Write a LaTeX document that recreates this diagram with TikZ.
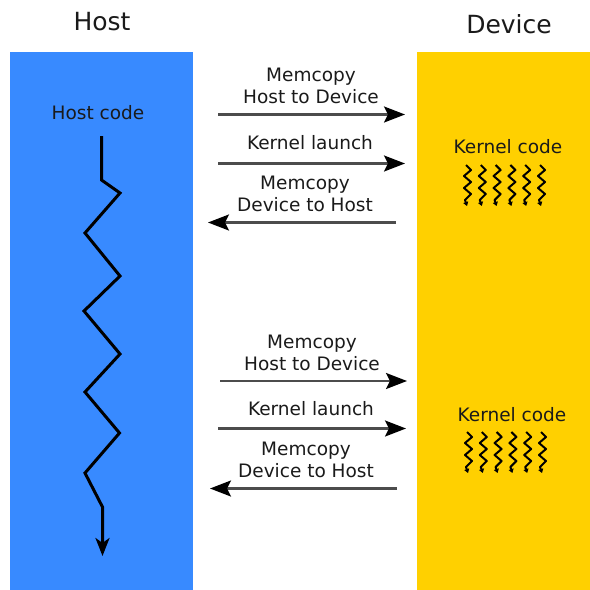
\documentclass[tikz,border=0pt]{standalone}
\usepackage{fontspec}
\setmainfont{DejaVu Sans}
\usetikzlibrary{arrows.meta}
\definecolor{hostblue}{RGB}{56,138,255}
\definecolor{devyellow}{RGB}{255,208,0}
\definecolor{txt}{RGB}{26,26,26}
\begin{document}
\begin{tikzpicture}[x=1pt,y=-1pt,
  title/.style={font=\fontsize{25}{28}\selectfont, text=txt, inner sep=0pt},
  lbl/.style={font=\fontsize{18.5}{22}\selectfont, text=txt, inner sep=0pt, align=center},
  msg/.style={draw=black!70, line width=2.4pt, -{Stealth[length=21pt,width=16pt,inset=4pt,color=black]}},
  squig/.style={line width=2pt, black, line join=round, -{Triangle[length=4pt,width=5pt]}},
]
\useasboundingbox (0,0) rectangle (590,590);
\fill[white] (0,0) rectangle (590,590);
\fill[hostblue] (10,52) rectangle (193,590);
\fill[devyellow] (417,52) rectangle (590,590);

\node[title] (hosttitle) at (102,22) {Host};
\node[title] (devtitle) at (509,24) {Device};
\node[lbl] (hostcode) at (98,113) {Host code};

% host thread zigzag
\coordinate (z0) at (101.5,136);
\coordinate (zend) at (102.5,556);
\draw[line width=3pt, line join=miter, -{Stealth[length=18pt,width=14pt,inset=5pt]}]
  (z0) -- (101.5,180) -- (120,193) -- (85,233) -- (120,276) -- (84,311) -- (120,354)
  -- (85,392) -- (119.5,433) -- (85,473) -- (102.5,507) -- (zend);

% group 1
\node[lbl] (m1) at (311,86) {Memcopy\\Host to Device};
\coordinate (a1s) at (218,114.5); \coordinate (a1e) at (405,114.5);
\draw[msg] (a1s) -- (a1e);
\node[lbl] (k1) at (310,143) {Kernel launch};
\coordinate (a2s) at (218,163.5); \coordinate (a2e) at (405,163.5);
\draw[msg] (a2s) -- (a2e);
\node[lbl] (d1) at (305,194) {Memcopy\\Device to Host};
\coordinate (a3s) at (396,222.5); \coordinate (a3e) at (208,222.5);
\draw[msg] (a3s) -- (a3e);
\node[lbl] (kc1) at (508,147) {Kernel code};
\foreach \i in {0,...,5}{
  \begin{scope}[shift={(467+\i*14.8,165)}]
  \draw[squig] (-1,0) -- (4,5) -- (-3,11) -- (4,17) -- (-3,23) -- (4,29) -- (-2,35) -- (0,41);
  \end{scope}
}

% group 2
\node[lbl] (m2) at (312,352.5) {Memcopy\\Host to Device};
\coordinate (b1s) at (220,381); \coordinate (b1e) at (407,381);
\draw[msg] (b1s) -- (b1e);
\node[lbl] (k2) at (311,408.5) {Kernel launch};
\coordinate (b2s) at (218,428.5); \coordinate (b2e) at (406,428.5);
\draw[msg] (b2s) -- (b2e);
\node[lbl] (d2) at (306,459.5) {Memcopy\\Device to Host};
\coordinate (b3s) at (397,488.5); \coordinate (b3e) at (210,488.5);
\draw[msg] (b3s) -- (b3e);
\node[lbl] (kc2) at (512,415) {Kernel code};
\foreach \i in {0,...,5}{
  \begin{scope}[shift={(468+\i*14.8,432)}]
  \draw[squig] (-1,0) -- (4,5) -- (-3,11) -- (4,17) -- (-3,23) -- (4,29) -- (-2,35) -- (0,41);
  \end{scope}
}
\end{tikzpicture}
\end{document}
